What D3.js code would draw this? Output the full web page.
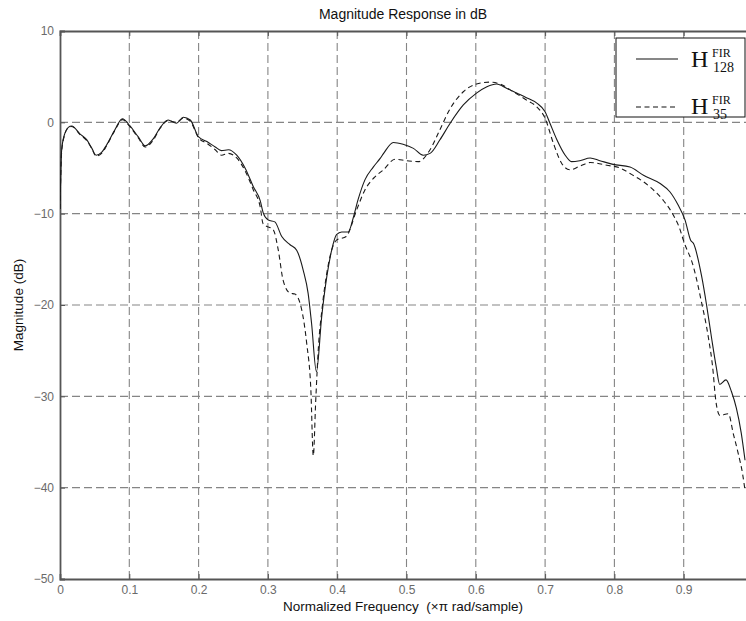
<!DOCTYPE html>
<html>
<head>
<meta charset="utf-8">
<script src="https://cdn.jsdelivr.net/npm/d3@7"></script>
<style>
  body { margin: 0; background: #fff; }
  text { font-family: Arial, "Liberation Sans", sans-serif; }
</style>
</head>
<body>
<div id="chart"></div>
<script>
// H128 (solid)
var freq128 = [0, 0.0024, 0.007, 0.012, 0.017, 0.029, 0.0385, 0.046, 0.052, 0.060, 0.067, 0.079, 0.090, 0.101, 0.113, 0.123, 0.135, 0.144, 0.156, 0.168, 0.178, 0.188, 0.200, 0.212, 0.224, 0.233, 0.243, 0.255, 0.267, 0.279, 0.289, 0.2935, 0.3006, 0.310, 0.320, 0.332, 0.3415, 0.351, 0.358, 0.363, 0.370, 0.3776, 0.385, 0.392, 0.399, 0.4065, 0.416, 0.423, 0.430, 0.440, 0.452, 0.462, 0.467, 0.481, 0.495, 0.510, 0.524, 0.534, 0.548, 0.563, 0.582, 0.601, 0.616, 0.630, 0.645, 0.659, 0.673, 0.688, 0.700, 0.707, 0.717, 0.729, 0.738, 0.750, 0.765, 0.779, 0.798, 0.8225, 0.842, 0.866, 0.880, 0.892, 0.902, 0.910, 0.914, 0.926, 0.933, 0.940, 0.947, 0.952, 0.961, 0.969, 0.976, 0.983, 0.9885]
var mag128 = [-9.5, -3.0, -1.2, -0.55, -0.4, -1.3, -1.9, -2.85, -3.6, -3.3, -2.5, -0.85, 0.4, -0.4, -1.6, -2.56, -1.75, -0.65, 0.25, -0.1, 0.55, 0.25, -1.6, -2.1, -2.7, -3.1, -3.0, -3.6, -5.0, -7.05, -8.6, -9.97, -10.7, -10.9, -12.5, -13.4, -14.0, -16.2, -18.7, -22.0, -27.3, -21.3, -16.9, -14.0, -12.3, -12.0, -12.0, -10.5, -8.5, -6.3, -4.9, -3.95, -3.4, -2.2, -2.4, -2.85, -3.6, -3.4, -1.94, -0.1, 1.9, 3.2, 3.9, 4.2, 3.7, 3.2, 2.7, 2.1, 1.16, -0.1, -1.9, -3.6, -4.3, -4.2, -3.9, -4.2, -4.6, -4.9, -5.8, -6.7, -7.6, -9.06, -10.7, -12.9, -13.25, -16.9, -20.0, -23.5, -26.8, -28.7, -28.2, -29.5, -31.3, -34.0, -37.0]

// H35 (dashed)
var freq35 = [0, 0.0024, 0.007, 0.012, 0.017, 0.029, 0.0385, 0.046, 0.052, 0.060, 0.067, 0.079, 0.090, 0.101, 0.113, 0.123, 0.135, 0.144, 0.156, 0.168, 0.178, 0.188, 0.200, 0.212, 0.224, 0.233, 0.243, 0.255, 0.267, 0.279, 0.289, 0.293, 0.308, 0.315, 0.322, 0.332, 0.339, 0.349, 0.356, 0.362, 0.3655, 0.369, 0.373, 0.378, 0.385, 0.392, 0.399, 0.413, 0.428, 0.440, 0.454, 0.4666, 0.4834, 0.500, 0.517, 0.534, 0.548, 0.563, 0.582, 0.601, 0.620, 0.635, 0.654, 0.673, 0.688, 0.700, 0.712, 0.724, 0.736, 0.750, 0.765, 0.789, 0.808, 0.8225, 0.851, 0.870, 0.885, 0.895, 0.8995, 0.914, 0.926, 0.9355, 0.9427, 0.9452, 0.9476, 0.9524, 0.9644, 0.9716, 0.9788, 0.985, 0.9885]
var mag35 = [-9.5, -3.2, -1.3, -0.6, -0.45, -1.35, -2.0, -2.9, -3.7, -3.4, -2.6, -0.9, 0.3, -0.5, -1.7, -2.7, -1.9, -0.7, 0.2, 0.0, 0.45, 0.1, -1.7, -2.3, -3.0, -3.6, -3.4, -3.9, -5.3, -7.4, -9.3, -11.1, -11.8, -14.0, -17.3, -18.7, -18.8, -20.6, -24.2, -29.3, -36.5, -30.5, -24.5, -20.5, -16.5, -14.0, -12.9, -12.5, -9.6, -7.4, -6.0, -5.2, -4.05, -4.2, -4.3, -3.0, -0.84, 1.5, 3.35, 4.2, 4.4, 4.2, 3.35, 2.45, 1.7, 0.44, -2.3, -4.5, -5.2, -4.8, -4.4, -4.7, -5.0, -5.6, -7.05, -8.5, -10.15, -11.8, -12.9, -15.8, -19.8, -23.5, -27.5, -29.7, -31.1, -32.1, -31.9, -34.1, -36.3, -38.5, -40.3]

var xTicks = [0, 0.1, 0.2, 0.3, 0.4, 0.5, 0.6, 0.7, 0.8, 0.9]
var yTicks = [10, 0, -10, -20, -30, -40, -50]

var width = 746, height = 621
var pL = 60, pR = 753, pT = 31, pB = 579

var svg = d3.select("#chart").append("svg").attr("width", width).attr("height", height)

var x = d3.scaleLinear().domain([0, 1]).range([pL, pR])
var y = d3.scaleLinear().domain([-50, 10]).range([pB, pT])

// grid
var grid = svg.append("g").attr("stroke", "#858585").attr("stroke-width", 1.1).attr("stroke-dasharray", "8,4")
grid.selectAll(".gx").data(xTicks.filter(d => d > 0)).join("line")
    .attr("x1", d => x(d)).attr("x2", d => x(d)).attr("y1", pT).attr("y2", pB)
grid.selectAll(".gy").data(yTicks.filter(d => d > -50 && d < 10)).join("line")
    .attr("x1", pL).attr("x2", pR).attr("y1", d => y(d)).attr("y2", d => y(d))

// axes
var xAxis = svg.append("g").attr("transform", "translate(0," + pB + ")")
    .call(d3.axisBottom(x).tickValues(xTicks).tickSize(-5).tickPadding(6).tickFormat(d3.format("")))
var xTop = svg.append("g").attr("transform", "translate(0," + pT + ")")
    .call(d3.axisTop(x).tickValues(xTicks).tickSize(-5).tickFormat(""))
var yAxis = svg.append("g").attr("transform", "translate(" + pL + ",0)")
    .call(d3.axisLeft(y).tickValues(yTicks).tickSize(-5).tickPadding(6))
;[xAxis, xTop, yAxis].forEach(g => {
    g.select(".domain").attr("stroke", "#555").attr("stroke-width", 1.8)
    g.selectAll(".tick line").attr("stroke", "#555")
    g.selectAll(".tick text").attr("fill", "#6a6a6a").style("font-size", "12px")
})

svg.append("defs").append("clipPath").attr("id", "clip")
    .append("rect").attr("x", pL).attr("y", pT).attr("width", pR - pL).attr("height", pB - pT)

var line = d3.line().x(d => x(d[0])).y(d => y(d[1])).curve(d3.curveMonotoneX)
var plot = svg.append("g").attr("clip-path", "url(#clip)")
plot.append("path").datum(d3.zip(freq128, mag128)).attr("d", line)
    .attr("fill", "none").attr("stroke", "#1a1a1a").attr("stroke-width", 1.1)
plot.append("path").datum(d3.zip(freq35, mag35)).attr("d", line)
    .attr("fill", "none").attr("stroke", "#1a1a1a").attr("stroke-width", 1.1).attr("stroke-dasharray", "5,3.5")

// legend
var lg = svg.append("g")
lg.append("rect").attr("x", 616).attr("y", 38).attr("width", 129).attr("height", 79)
    .attr("fill", "#fff").attr("stroke", "#111").attr("stroke-width", 1)
lg.append("line").attr("x1", 636).attr("x2", 678).attr("y1", 59).attr("y2", 59).attr("stroke", "#111").attr("stroke-width", 1.1)
lg.append("line").attr("x1", 636).attr("x2", 678).attr("y1", 107).attr("y2", 107).attr("stroke", "#111").attr("stroke-width", 1.1).attr("stroke-dasharray", "5,3.5")
var legendItems = [["128", 67], ["35", 114]]
legendItems.forEach(it => {
    var t = lg.append("text").attr("x", 691).attr("y", it[1]).attr("fill", "#111")
        .style("font-family", "'Liberation Serif', 'Times New Roman', serif")
    t.append("tspan").style("font-size", "24px").text("H")
    t.append("tspan").attr("x", 712).attr("y", it[1] - 10).style("font-size", "12px").text("FIR")
    t.append("tspan").attr("x", 713).attr("y", it[1] + 5).style("font-size", "14px").text(it[0])
})

// titles
svg.append("text").attr("x", 403).attr("y", 19).attr("text-anchor", "middle")
    .style("font-size", "14px").attr("fill", "#111").text("Magnitude Response in dB")
svg.append("text").attr("x", 403).attr("y", 611).attr("text-anchor", "middle")
    .style("font-size", "13.5px").attr("fill", "#111").text("Normalized Frequency\u00a0\u00a0(\u00d7\u03c0 rad/sample)")
svg.append("text").attr("transform", "translate(23," + ((pT + pB) / 2) + ") rotate(-90)")
    .attr("text-anchor", "middle").style("font-size", "13.5px").attr("fill", "#111").text("Magnitude (dB)")
</script>
</body>
</html>
